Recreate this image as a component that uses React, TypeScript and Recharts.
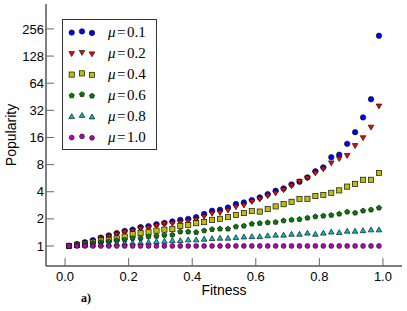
import React from 'react';
import { ScatterChart, Scatter, XAxis, YAxis, Legend, Label } from 'recharts';

// x positions (fitness)
const FITNESS = [0.0125, 0.0375, 0.0625, 0.0875, 0.1125, 0.1375, 0.1625, 0.1875, 0.2125, 0.2375,
  0.2625, 0.2875, 0.3125, 0.3375, 0.3625, 0.3875, 0.4125, 0.4375, 0.4625, 0.4875,
  0.5125, 0.5375, 0.5625, 0.5875, 0.6125, 0.6375, 0.6625, 0.6875, 0.7125, 0.7375,
  0.7625, 0.7875, 0.8125, 0.8375, 0.8625, 0.8875, 0.9125, 0.9375, 0.9625, 0.9875];

const MU_01 = [1.01, 1.05, 1.10, 1.16, 1.24, 1.31, 1.39, 1.47, 1.52, 1.62, 1.66, 1.74, 1.80,
  1.87, 1.95, 2.0, 2.09, 2.27, 2.46, 2.52, 2.67, 2.92, 3.04,
  3.23, 3.46, 3.76, 4.1, 4.35, 4.82, 5.17, 5.77, 6.74, 7.46, 9.65, 10.3, 13.6,
  18.3, 26.7, 42.5, 215];
const MU_02 = [1.0, 1.04, 1.08, 1.13, 1.22, 1.28, 1.35, 1.43, 1.47, 1.57, 1.60, 1.68, 1.76,
  1.78, 1.83, 1.88, 1.97, 2.13, 2.30, 2.35, 2.50, 2.72, 2.84,
  3.12, 3.32, 3.61, 3.87, 4.21, 4.66, 5.21, 5.68, 6.47, 7.17, 8.36, 9.33, 10.1, 13.0,
  15.9, 20.8, 35.7];
const MU_04 = [1.0, 1.03, 1.06, 1.11, 1.15, 1.17, 1.21, 1.27, 1.35, 1.39, 1.42, 1.48, 1.52,
  1.54, 1.67, 1.71, 1.79, 1.84, 1.95, 2.0, 2.09, 2.21, 2.32, 2.44, 2.41,
  2.57, 2.75, 2.91, 3.09, 3.32, 3.34, 3.58, 3.68, 3.89, 4.14, 4.56, 4.89, 5.43, 5.43, 6.45];
const MU_06 = [1.0, 1.02, 1.05, 1.08, 1.10, 1.12, 1.15, 1.17, 1.22, 1.22, 1.27, 1.29, 1.32,
  1.33, 1.44, 1.44, 1.42, 1.48, 1.53, 1.55, 1.55, 1.64, 1.67, 1.76, 1.79, 1.82,
  1.84, 1.91, 1.95, 1.98, 2.05, 2.12, 2.16, 2.2, 2.27, 2.39, 2.33, 2.46, 2.52, 2.65];
const MU_08 = [1.0, 1.01, 1.02, 1.03, 1.04, 1.05, 1.06, 1.07, 1.08, 1.09, 1.10, 1.12, 1.13,
  1.15, 1.15, 1.17, 1.17, 1.19, 1.21, 1.22, 1.22, 1.24, 1.26, 1.27, 1.27, 1.30,
  1.32, 1.32, 1.35, 1.35, 1.39, 1.35, 1.39, 1.43, 1.41, 1.46, 1.46, 1.48, 1.51, 1.51];
const MU_10 = [1, 1, 1, 1, 1, 1, 1, 1, 1, 1, 1, 1, 1, 1, 1, 1, 1, 1, 1, 1,
  1, 1, 1, 1, 1, 1, 1, 1, 1, 1, 1, 1, 1, 1, 1, 1, 1, 1, 1, 1];

const MU_LABELS = ['0.1', '0.2', '0.4', '0.6', '0.8', '1.0'];
const X_TICKS = [0, 0.2, 0.4, 0.6, 0.8, 1.0];
const Y_TICKS = [1, 2, 4, 8, 16, 32, 64, 128, 256];

const SERIES = [
  { label: MU_LABELS[0], values: MU_01, color: '#0000ff', kind: 'circle' },
  { label: MU_LABELS[1], values: MU_02, color: '#ff0000', kind: 'triDown' },
  { label: MU_LABELS[2], values: MU_04, color: '#bfbf00', kind: 'square' },
  { label: MU_LABELS[3], values: MU_06, color: '#008000', kind: 'pentagon' },
  { label: MU_LABELS[4], values: MU_08, color: '#00bfbf', kind: 'triUp' },
  { label: MU_LABELS[5], values: MU_10, color: '#bf00bf', kind: 'circleSmall' },
];

const SANS = '"Liberation Sans", Arial, Helvetica, sans-serif';
const SERIF = '"Liberation Serif", "DejaVu Serif", "Times New Roman", serif';
const EDGE = '#111';

function Marker({ kind, color, cx, cy }: { kind: string; color: string; cx: number; cy: number }) {
  const sw = 0.7;
  if (kind === 'circle') return <circle cx={cx} cy={cy} r={2.7} fill={color} stroke={EDGE} strokeWidth={sw} />;
  if (kind === 'circleSmall') return <circle cx={cx} cy={cy} r={2.4} fill={color} stroke={EDGE} strokeWidth={sw} />;
  if (kind === 'square') return <rect x={cx - 2.6} y={cy - 2.6} width={5.2} height={5.2} fill={color} stroke={EDGE} strokeWidth={sw} />;
  if (kind === 'triDown') {
    const p = `${cx - 2.8},${cy - 2.0} ${cx + 2.8},${cy - 2.0} ${cx},${cy + 2.9}`;
    return <polygon points={p} fill={color} stroke={EDGE} strokeWidth={sw} />;
  }
  if (kind === 'triUp') {
    const p = `${cx - 2.8},${cy + 2.0} ${cx + 2.8},${cy + 2.0} ${cx},${cy - 2.9}`;
    return <polygon points={p} fill={color} stroke={EDGE} strokeWidth={sw} />;
  }
  // pentagon
  const pts: string[] = [];
  for (let k = 0; k < 5; k++) {
    const a = -Math.PI / 2 + (k * 2 * Math.PI) / 5;
    pts.push(`${cx + 2.7 * Math.cos(a)},${cy + 2.7 * Math.sin(a)}`);
  }
  return <polygon points={pts.join(' ')} fill={color} stroke={EDGE} strokeWidth={sw} />;
}

const TICK_STROKE = '#666';

const BottomTick = (props: any) => {
  const { x, y, payload } = props;
  return (
    <g>
      <line x1={x} x2={x} y1={y} y2={y - 8} stroke={TICK_STROKE} strokeWidth={1} />
      <text x={x} y={y + 15} textAnchor="middle" fontFamily={SANS} fontSize={13} fill="#000">
        {Number(payload.value).toFixed(1)}
      </text>
    </g>
  );
};
const TopTick = (props: any) => {
  const { x, y } = props;
  return <line x1={x} x2={x} y1={y} y2={y + 8} stroke={TICK_STROKE} strokeWidth={1} />;
};
const LeftTick = (props: any) => {
  const { x, y, payload } = props;
  return (
    <g>
      <line x1={x} x2={x + 8} y1={y} y2={y} stroke={TICK_STROKE} strokeWidth={1} />
      <text x={x - 2} y={y + 4.6} textAnchor="end" fontFamily={SANS} fontSize={13} fill="#000">
        {String(payload.value)}
      </text>
    </g>
  );
};
const RightTick = (props: any) => {
  const { x, y } = props;
  return <line x1={x} x2={x - 8} y1={y} y2={y} stroke={TICK_STROKE} strokeWidth={1} />;
};

const LegendContent = () => (
  <div
    style={{
      boxSizing: 'border-box',
      width: 95,
      height: 131,
      border: '1px solid #333',
      background: '#fff',
      paddingTop: 1.5,
    }}
  >
    {SERIES.map((s) => (
      <div key={s.label} style={{ position: 'relative', height: 21 }}>
        <svg width={40} height={21} style={{ position: 'absolute', left: 0, top: 0 }}>
          <Marker kind={s.kind} color={s.color} cx={8.7} cy={10.6} />
          <Marker kind={s.kind} color={s.color} cx={19} cy={9.4} />
          <Marker kind={s.kind} color={s.color} cx={29} cy={10.9} />
        </svg>
        <div
          style={{
            position: 'absolute',
            left: 45,
            top: 0,
            height: 21,
            lineHeight: '21px',
            fontFamily: SERIF,
            fontSize: 15,
            color: '#000',
            whiteSpace: 'nowrap',
          }}
        >
          <span style={{ fontStyle: 'italic' }}>μ</span>
          <span style={{ margin: '0 1.5px' }}>=</span>
          <span>{s.label}</span>
        </div>
      </div>
    ))}
  </div>
);

export default function App() {
  const seriesData = SERIES.map((s) => FITNESS.map((x, i) => ({ x, y: s.values[i] })));
  return (
    <div style={{ position: 'absolute', left: 0, top: 0, width: 407, height: 311, background: '#fff' }}>
      <ScatterChart width={407} height={311} margin={{ top: 4, right: 5, bottom: 0, left: 0 }}>
        <XAxis
          xAxisId={0}
          type="number"
          dataKey="x"
          domain={[-0.06, 1.06]}
          allowDataOverflow
          ticks={X_TICKS}
          interval={0}
          height={45}
          tickSize={0}
          tickMargin={0}
          tickLine={false}
          tick={<BottomTick />}
          axisLine={{ stroke: '#000', strokeWidth: 1 }}
        >
          <Label
            content={(p: any) => {
              const vb = p.viewBox || { x: 46, width: 356, y: 266 };
              return (
                <text x={vb.x + vb.width / 2} y={295} textAnchor="middle" fontFamily={SANS} fontSize={14} fill="#000">
                  Fitness
                </text>
              );
            }}
          />
          <Label
            content={() => (
              <text x={81} y={302} fontFamily={SERIF} fontWeight="bold" fontSize={12} fill="#000">
                a)
              </text>
            )}
          />
        </XAxis>
        <XAxis
          xAxisId="top"
          orientation="top"
          type="number"
          domain={[-0.06, 1.06]}
          allowDataOverflow
          ticks={X_TICKS}
          interval={0}
          height={0}
          tickSize={0}
          tickMargin={0}
          tickLine={false}
          tick={<TopTick />}
          axisLine={{ stroke: '#000', strokeWidth: 1 }}
        />
        <YAxis
          yAxisId={0}
          type="number"
          dataKey="y"
          scale="log"
          domain={[0.6, 484]}
          allowDataOverflow
          ticks={Y_TICKS}
          interval={0}
          width={46}
          tickSize={0}
          tickMargin={0}
          tickLine={false}
          tick={<LeftTick />}
          axisLine={{ stroke: '#000', strokeWidth: 1 }}
        >
          <Label
            content={() => (
              <text
                x={16}
                y={135}
                transform="rotate(-90, 16, 135)"
                textAnchor="middle"
                fontFamily={SANS}
                fontSize={14}
                fill="#000"
              >
                Popularity
              </text>
            )}
          />
        </YAxis>
        <YAxis
          yAxisId="right"
          orientation="right"
          type="number"
          scale="log"
          domain={[0.6, 484]}
          allowDataOverflow
          ticks={Y_TICKS}
          interval={0}
          width={0}
          tickSize={0}
          tickMargin={0}
          tickLine={false}
          tick={<RightTick />}
          axisLine={{ stroke: '#000', strokeWidth: 1 }}
        />
        <Legend
          layout="vertical"
          align="center"
          verticalAlign="middle"
          wrapperStyle={{ left: 62, top: 19, width: 95, height: 131 }}
          content={<LegendContent />}
        />
        {SERIES.map((s, k) => (
          <Scatter
            key={s.label}
            name={`μ=${s.label}`}
            data={seriesData[k]}
            xAxisId={0}
            yAxisId={0}
            fill={s.color}
            isAnimationActive={false}
            shape={(p: any) => <Marker kind={s.kind} color={s.color} cx={p.cx} cy={p.cy} />}
          />
        ))}
      </ScatterChart>
    </div>
  );
}
